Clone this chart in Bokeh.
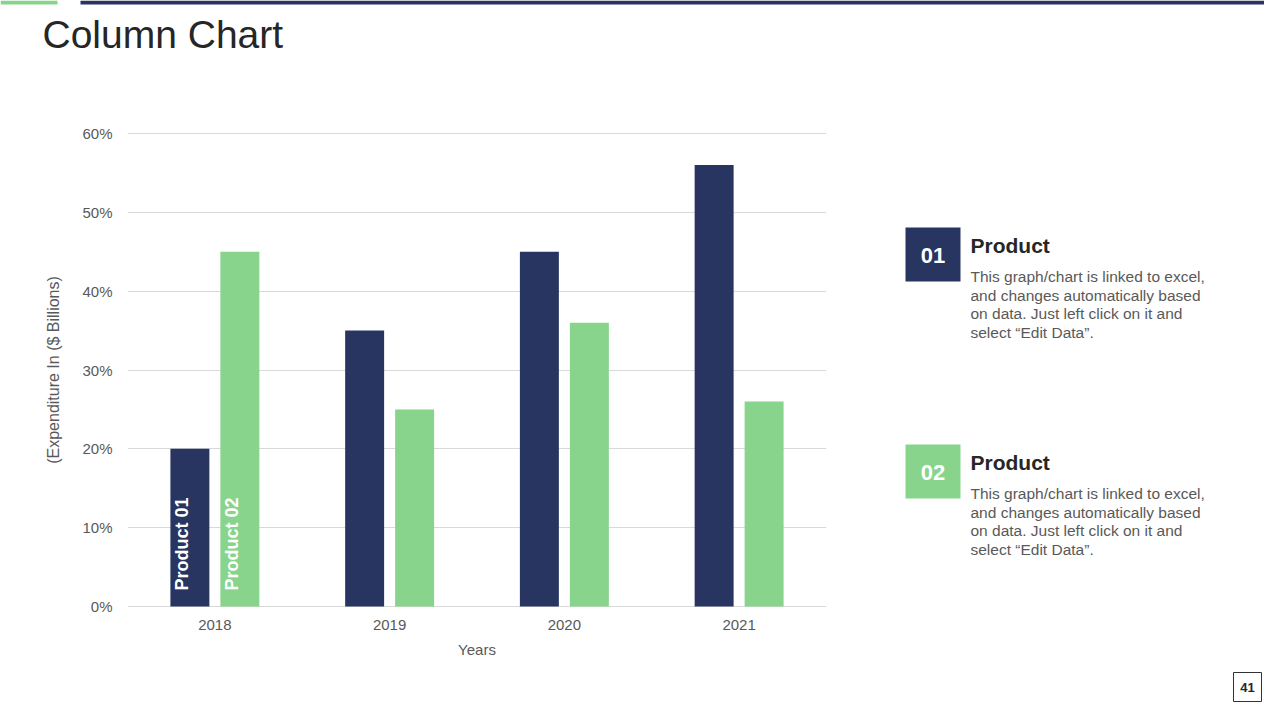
import math
from bokeh.plotting import figure
from bokeh.layouts import column, row
from bokeh.models import (FactorRange, Range1d, ColumnDataSource, PrintfTickFormatter, FixedTicker)
from bokeh.transform import dodge
from bokeh.core.properties import value
from bokeh.embed import file_html
from bokeh.resources import INLINE

# ---- data ----
years = ["2018", "2019", "2020", "2021"]
product_01 = [20, 35, 45, 56]
product_02 = [45, 25, 36, 26]
y_ticks = [0, 10, 20, 30, 40, 50, 60]
series_names = ["Product 01", "Product 02"]
title_text = "Column Chart"
x_title = "Years"
y_title = "(Expenditure In ($ Billions)"
panel_numbers = ["01", "02"]
panel_heads = ["Product", "Product"]
panel_lines = ["This graph/chart is linked to excel,",
               "and changes automatically based",
               "on data. Just left click on it and",
               "select \u201cEdit Data\u201d."]
page_number = "41"

# ---- style ----
W, H = 1264, 704
TOP_H = 90
CHART_W = 850
NAVY = "#283560"
GREEN = "#88D48C"
FONT = "Liberation Sans"
GREY = "#595959"
DARK = "#262626"


def blank_fig(w, h, x0, y0):
    f = figure(width=w, height=h, x_range=Range1d(x0, x0 + w), y_range=Range1d(y0 + h, y0),
               output_backend="svg", toolbar_location=None, x_axis_type=None, y_axis_type=None,
               min_border=0)
    f.outline_line_color = None
    f.xgrid.grid_line_color = None
    f.ygrid.grid_line_color = None
    f.background_fill_color = "white"
    f.border_fill_color = "white"
    return f


# ---- top strip: accent bars + title ----
top = blank_fig(W, TOP_H, 0, 0)
top.quad(left=[0, 80], right=[57, W], top=[0, 0], bottom=[4, 4], fill_color=[GREEN, NAVY],
         line_color=None)
top.text(x=[42], y=[34], text=[title_text], text_font=value(FONT), text_font_size="39px",
         text_color=DARK, text_baseline="middle", text_align="left")

# ---- chart ----
p = figure(width=CHART_W, height=H - TOP_H, x_range=FactorRange(*years),
           y_range=Range1d(-1.015, 61.015),
           output_backend="svg", toolbar_location=None,
           min_border_left=127, min_border_right=CHART_W - 826,
           min_border_top=125 - TOP_H, min_border_bottom=H - 614)
p.x_range.range_padding = 0
p.outline_line_color = None
p.background_fill_color = "white"
p.border_fill_color = "white"

src = ColumnDataSource(dict(year=years, p1=product_01, p2=product_02))
p.vbar(x=dodge("year", -0.143, range=p.x_range), top="p1", bottom=0, width=0.223, source=src,
       fill_color=NAVY, line_color=None)
p.vbar(x=dodge("year", 0.143, range=p.x_range), top="p2", bottom=0, width=0.223, source=src,
       fill_color=GREEN, line_color=None)

lab_src = ColumnDataSource(dict(year=[years[0]], l1=[series_names[0]], l2=[series_names[1]], y=[0]))
for col, off in (("l1", -0.143), ("l2", 0.143)):
    p.text(x=dodge("year", off, range=p.x_range), y="y", text=col, source=lab_src,
           angle=math.pi / 2, x_offset=-8, y_offset=-16, text_align="left",
           text_baseline="middle", text_color="white", text_font_style="bold",
           text_font_size="18px", text_font=value(FONT))

p.yaxis.ticker = FixedTicker(ticks=y_ticks)
p.yaxis.formatter = PrintfTickFormatter(format="%d%%")
for ax in (p.xaxis[0], p.yaxis[0]):
    ax.axis_line_color = None
    ax.major_tick_line_color = None
    ax.minor_tick_line_color = None
    ax.major_tick_out = 0
    ax.major_tick_in = 0
    ax.minor_tick_out = 0
    ax.minor_tick_in = 0
    ax.major_label_text_font = FONT
    ax.major_label_text_font_size = "15px"
    ax.major_label_text_color = GREY
    ax.axis_label_text_font = FONT
    ax.axis_label_text_font_style = "normal"
    ax.axis_label_text_color = GREY
p.yaxis.major_label_standoff = 15
p.yaxis.axis_label = y_title
p.yaxis.axis_label_text_font_size = "16px"
p.yaxis.axis_label_standoff = 17
p.xaxis.major_label_standoff = 5
p.xaxis.axis_label = x_title
p.xaxis.axis_label_text_font_size = "15px"
p.xaxis.axis_label_standoff = 8
p.xgrid.grid_line_color = None
p.ygrid.grid_line_color = "#D9D9D9"
p.ygrid.grid_line_width = 1

# ---- side panel ----
side = blank_fig(W - CHART_W, H - TOP_H, CHART_W, TOP_H)
panel_tops = [227, 444]
panel_colors = [NAVY, GREEN]
side.quad(left=[905, 905], right=[960, 960], top=panel_tops, bottom=[t + 54 for t in panel_tops],
          fill_color=panel_colors, line_color=None)
side.text(x=[932.5, 932.5], y=[t + 28 for t in panel_tops], text=panel_numbers,
          text_font=value(FONT), text_font_size="22px", text_font_style="bold",
          text_color="white", text_align="center", text_baseline="middle")
side.text(x=[970, 970], y=[t + 18 for t in panel_tops], text=panel_heads,
          text_font=value(FONT), text_font_size="21px", text_font_style="bold",
          text_color=DARK, text_align="left", text_baseline="middle")
lx, ly, lt = [], [], []
for t in panel_tops:
    for j, line in enumerate(panel_lines):
        lx.append(970)
        ly.append(t + 49 + j * 18.7)
        lt.append(line)
side.text(x=lx, y=ly, text=lt, text_font=value(FONT), text_font_size="15.5px",
          text_color=GREY, text_align="left", text_baseline="middle")
side.quad(left=[1233], right=[1261], top=[672], bottom=[701], fill_color="white",
          line_color="#333333", line_width=1)
side.text(x=[1247], y=[687], text=[page_number], text_font=value(FONT), text_font_size="13px",
          text_font_style="bold", text_color=DARK, text_align="center", text_baseline="middle")

layout = column(top, row(p, column(side, spacing=0), spacing=0), spacing=0)
open("out.html", "w").write(file_html(layout, INLINE))
